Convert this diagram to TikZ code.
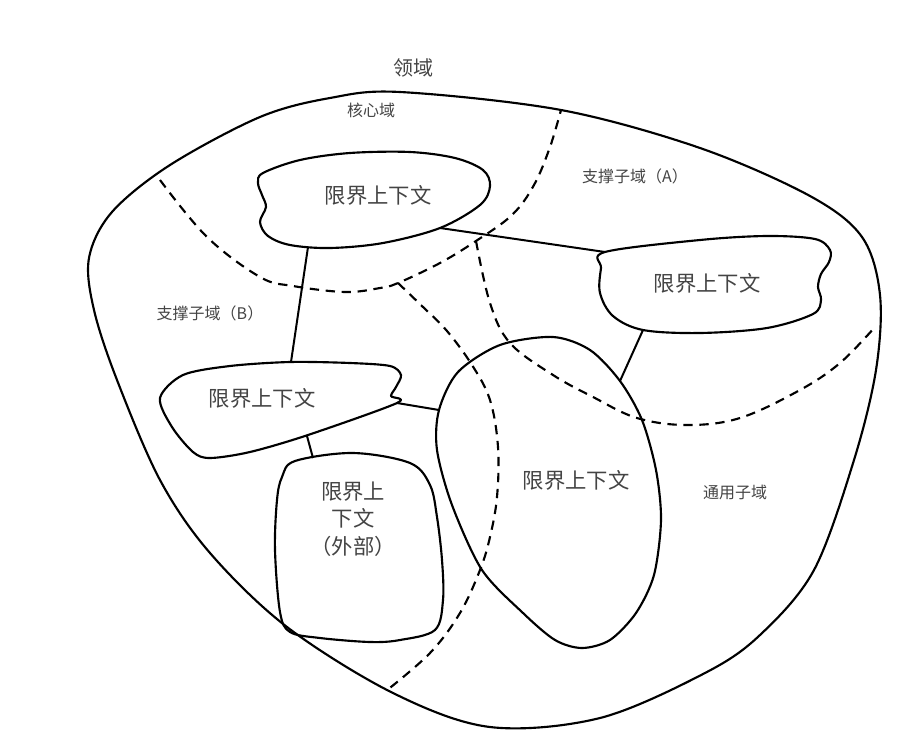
\documentclass[tikz,border=0pt]{standalone}
\usepackage{fontspec}
\newfontfamily\cjk{Noto Sans CJK SC}
\usepackage{xcolor}
\definecolor{labelgray}{RGB}{68,68,68}

\begin{document}
\begin{tikzpicture}[x=0.75pt,y=0.75pt,yscale=-1,xscale=1,
    bdry/.style={line width=1.6pt, line join=round},
    subdash/.style={line width=1.6pt, dash pattern={on 7pt off 5pt}},
    link/.style={line width=1.5pt},
    ctxtext/.style={inner sep=0.75pt, text=labelgray, font=\cjk\fontsize{16}{20}\selectfont, align=center},
    areatext/.style={inner sep=0.75pt, text=labelgray, font=\cjk\fontsize{12}{14}\selectfont}]
    \useasboundingbox (0,0) rectangle (900,732); %keep the 900 x 732 frame
    
    %Shape: Domain [id:domain]
    \draw [bdry] plot [smooth cycle, tension=0.55] coordinates {(400,92) (561,110) (700,148) (810,196) (862,237) (880,295) (876,370) (854,460) (814,570) (760,635) (705,673) (600,718) (490,727) (393,693) (287,627) (210,553) (160,480) (117,380) (94,310) (89,258) (112,212) (170,165) (260,117) (330,98)};
    
    %Dashed Lines [id:core boundary]
    \draw [subdash] plot [smooth, tension=0.6] coordinates {(160,180) (207,237) (260,277) (293,286) (345,292) (380,288) (398,283) (440,263) (476,241) (512,215) (534,185) (550,147) (561,110)};
    %Dashed Lines [id:generic boundary, left]
    \draw [subdash] plot [smooth, tension=0.6] coordinates {(398,283) (423,307) (447,331) (472,365) (490,400) (498,447) (497,497) (490,537) (480,570) (460,613) (430,653) (386,691)};
    %Dashed Lines [id:generic boundary, right]
    \draw [subdash] plot [smooth, tension=0.6] coordinates {(476,241) (490,303) (510,343) (553,375) (593,397) (637,418) (687,425) (740,418) (800,390) (840,363) (875,327)};
    
    %Shape: Core context [id:corectx]
    \draw [bdry] plot [smooth cycle, tension=0.55] coordinates {(263,173) (300,160) (350,153) (410,152) (455,158) (483,170) (490,186) (480,205) (440,228) (383,243) (330,248) (290,245) (268,236) (260,222) (266,207) (262,195) (258,183)};
    %Shape: Context A [id:supactx]
    \draw [bdry] plot [smooth cycle, tension=0.55] coordinates {(605,252) (700,240) (767,236) (815,239) (830,250) (829,262) (821,274) (818,287) (821,300) (813,314) (767,328) (700,333) (643,330) (613,316) (600,293) (601,268)};
    %Shape: Context B [id:supbctx]
    \draw [bdry] plot [smooth cycle, tension=0.5] coordinates {(160,398) (183,375) (230,366) (290,362) (350,363) (390,366) (401,375) (396,387) (391,396) (397,403) (308,435) (250,452) (210,458) (193,452) (172,427)};
    %Shape: External context [id:extctx]
    \draw [bdry] plot [smooth cycle, tension=0.55] coordinates {(295,461) (353,453) (410,463) (430,485) (437,517) (442,560) (443,600) (435,630) (400,640) (370,642) (320,638) (290,632) (280,612) (275,550) (277,500) (282,477)};
    %Shape: Main context [id:mainctx]
    \draw [bdry] plot [smooth cycle, tension=0.5] coordinates {(553,337) (590,350) (620,381) (642,420) (656,470) (661,520) (654,575) (636,613) (610,640) (582,648) (555,640) (523,613) (482,570) (452,505) (437,450) (439,410) (458,372) (500,345)};
    
    %Links between contexts
    \coordinate (coreS) at (308,247);
    \coordinate (supBN) at (291,362);
    \coordinate (coreE) at (440,228);
    \coordinate (supAW) at (605,252);
    \coordinate (supAS) at (643,330);
    \coordinate (mainNE) at (620,381);
    \coordinate (supBE) at (397,403);
    \coordinate (mainW) at (439,410);
    \coordinate (supBS) at (307,436);
    \coordinate (extN) at (313,458);
    \draw [link] (coreS) -- (supBN);
    \draw [link] (coreE) -- (supAW);
    \draw [link] (supAS) -- (mainNE);
    \draw [link] (supBE) -- (mainW);
    \draw [link] (supBS) -- (extN);
    
    % Text Node
    \draw (413,68) node [areatext, font=\cjk\fontsize{15}{18}\selectfont] (domain) {领域};
    % Text Node
    \draw (371,110) node [areatext] (corelabel) {核心域};
    % Text Node
    \draw (635,176) node [areatext] (supalabel) {支撑子域（A）};
    % Text Node
    \draw (210,313) node [areatext] (supblabel) {支撑子域（B）};
    % Text Node
    \draw (735,492) node [areatext] (genlabel) {通用子域};
    % Text Node
    \draw (378,195) node [ctxtext] (coretext) {限界上下文};
    % Text Node
    \draw (707,283) node [ctxtext] (supatext) {限界上下文};
    % Text Node
    \draw (262,398) node [ctxtext] (supbtext) {限界上下文};
    % Text Node
    \draw (576,480) node [ctxtext] (maintext) {限界上下文};
    % Text Node
    \draw (353,519) node [ctxtext, font=\cjk\fontsize{16}{20.5}\selectfont] (exttext) {限界上\\下文\\（外部）};
    
\end{tikzpicture}
\end{document}
